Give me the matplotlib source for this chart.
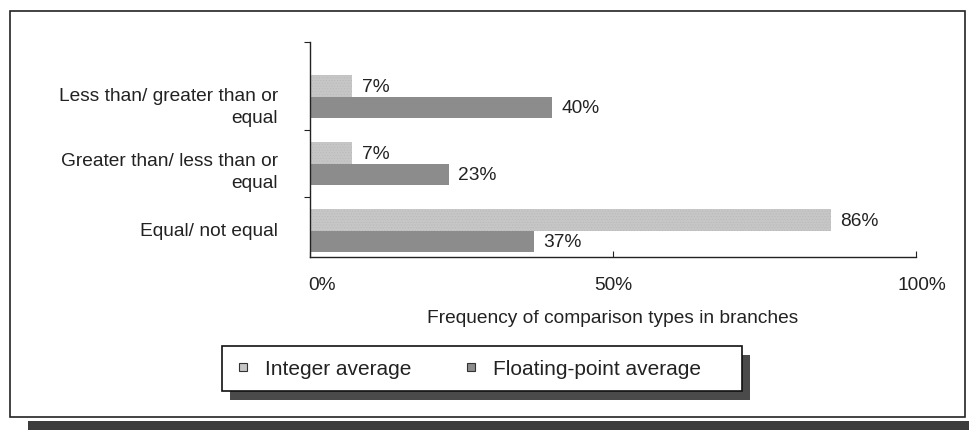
import matplotlib
matplotlib.use("Agg")
import matplotlib.pyplot as plt
from matplotlib.patches import Rectangle
from matplotlib.lines import Line2D
from matplotlib.transforms import ScaledTranslation

plt.rcParams['font.family'] = ['Liberation Sans', 'DejaVu Sans']
plt.rcParams['hatch.linewidth'] = 0.3

categories = ["Equal/ not equal",
              "Greater than/ less than or\nequal",
              "Less than/ greater than or\nequal"]
integer_avg = [86, 7, 7]
float_avg = [37, 23, 40]
x_ticks = [0, 50, 100]
x_tick_labels = ["0%", "50%", "100%"]

W, H = 970, 431
FS = 13.8
INK = '#222222'

fig = plt.figure(figsize=(W / 100, H / 100), dpi=100)
fig.patch.set_facecolor('white')

def px(x0, y0, x1, y1):
    # pixel box (top-left origin) -> figure fraction rectangle
    return (x0 / W, 1 - y1 / H, (x1 - x0) / W, (y1 - y0) / H)

# outer frame and its shadow strip along the bottom
fx, fy, fw, fh = px(10, 12, 965, 418)
fig.patches.append(Rectangle((fx, fy), fw, fh, transform=fig.transFigure,
                             facecolor='white', edgecolor=INK, lw=1.2, zorder=0))
sx, sy, sw, sh = px(28, 422, 970, 431)
fig.patches.append(Rectangle((sx, sy), sw, sh, transform=fig.transFigure,
                             facecolor='#3c3c3c', edgecolor='none', zorder=0))

ax = fig.add_axes(px(310, 43, 916, 258))
ax.set_facecolor('none')
ax.set_zorder(5)

light = '#c6c6c6'
dark = '#8c8c8c'
bh = 0.32
ypos = list(range(len(categories)))
bars_i = ax.barh([y + bh / 2 for y in ypos], integer_avg, height=bh,
                 color=light, edgecolor='#b6b6b6', linewidth=0, hatch='......')
bars_f = ax.barh([y - bh / 2 for y in ypos], float_avg, height=bh,
                 color=dark, edgecolor='none')

for b, v in zip(bars_i, integer_avg):
    ax.text(v + 1.5, b.get_y() + b.get_height() / 2, f"{v}%",
            va='center', ha='left', fontsize=FS, color=INK)
for b, v in zip(bars_f, float_avg):
    ax.text(v + 1.5, b.get_y() + b.get_height() / 2, f"{v}%",
            va='center', ha='left', fontsize=FS, color=INK)

ax.set_xlim(0, 100)
ax.set_ylim(-0.39, 2.82)

for s in ['top', 'right']:
    ax.spines[s].set_visible(False)
for s in ['left', 'bottom']:
    ax.spines[s].set_color(INK)
    ax.spines[s].set_linewidth(1.0)

ax.set_xticks(x_ticks)
ax.set_xticklabels(x_tick_labels, fontsize=FS, color=INK)
ax.tick_params(axis='x', direction='in', length=4, pad=14, color=INK)
# the outer percent labels sit slightly right of their ticks
for lbl, dx in zip(ax.get_xticklabels(), [12, 0, 6]):
    lbl.set_transform(lbl.get_transform() + ScaledTranslation(dx / 100, 0, fig.dpi_scale_trans))

# category separators on the left spine
ax.set_yticks([0.5, 1.5, 2.82])
ax.set_yticklabels([])
ax.tick_params(axis='y', direction='out', length=4, color=INK)

# category names, two-line ones sit a bit lower
offsets = [0.0, -0.11, -0.14]
for y, name, off in zip(ypos, categories, offsets):
    ax.text(-5.3, y + off, name, ha='right', va='center', fontsize=FS,
            color=INK, linespacing=1.35, clip_on=False)

ax.set_xlabel("Frequency of comparison types in branches", fontsize=FS,
              color=INK, labelpad=11)

# legend box with drop shadow
lx, ly, lw_, lh = px(222, 347, 742, 392)
fig.patches.append(Rectangle((lx + 8 / W, ly - 9 / H), lw_, lh, transform=fig.transFigure,
                             facecolor='#4a4a4a', edgecolor='none', zorder=1))
fig.patches.append(Rectangle((lx, ly), lw_, lh, transform=fig.transFigure,
                             facecolor='white', edgecolor='#111111', lw=1.2, zorder=2))
handles = [Line2D([], [], ls='none', marker='s', markersize=6,
                  markerfacecolor=light, markeredgecolor='#333333', markeredgewidth=0.8),
           Line2D([], [], ls='none', marker='s', markersize=6,
                  markerfacecolor=dark, markeredgecolor='#333333', markeredgewidth=0.8)]
leg = fig.legend(handles, ["Integer average", "Floating-point average"], ncol=2,
                 loc='center left', bbox_to_anchor=(233 / W, ly + lh / 2),
                 frameon=False, fontsize=15, columnspacing=2.35, handletextpad=0.55,
                 handlelength=1.0, borderpad=0, borderaxespad=0)
leg.set_zorder(6)
for t in leg.get_texts():
    t.set_color(INK)

fig.savefig("out.png", dpi=100)
